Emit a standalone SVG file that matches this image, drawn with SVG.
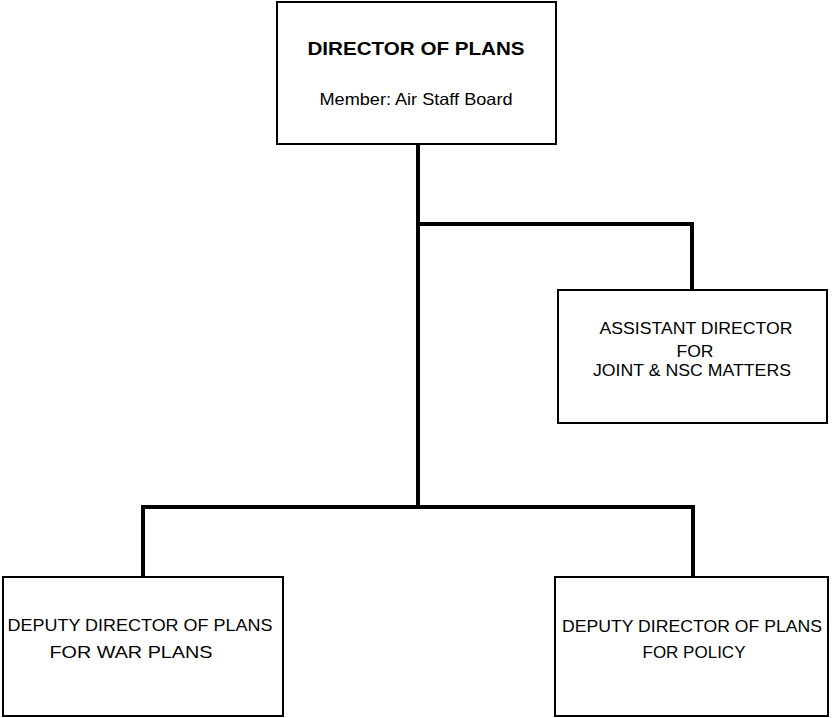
<svg xmlns="http://www.w3.org/2000/svg" width="832" height="718" viewBox="0 0 832 718">
<style>
.box{fill:#fff;stroke:#000;stroke-width:2}
.t{font-family:"Liberation Sans",Arial,sans-serif;font-size:16.5px;fill:#000;text-anchor:middle}
.b{font-weight:bold;font-size:18px}
.c{fill:none;stroke:#000;stroke-width:4;stroke-linejoin:miter;stroke-linecap:butt}
</style>
<rect width="832" height="718" fill="#fff"/>
<g id="connectors">
<path class="c" d="M418,144 V507"/>
<path class="c" d="M418,224 H692 V290"/>
<path class="c" d="M143,577 V507 H693 V577"/>
</g>
<g id="director">
<rect class="box" x="277" y="2" width="279" height="142"/>
<text class="t b" x="416" y="55" textLength="217" lengthAdjust="spacingAndGlyphs">DIRECTOR OF PLANS</text>
<text class="t" x="416" y="105" textLength="193" lengthAdjust="spacingAndGlyphs">Member: Air Staff Board</text>
</g>
<g id="assistant">
<rect class="box" x="558" y="290" width="269" height="133"/>
<text class="t" x="696" y="334" textLength="193" lengthAdjust="spacingAndGlyphs">ASSISTANT DIRECTOR</text>
<text class="t" x="695" y="357" textLength="37" lengthAdjust="spacingAndGlyphs">FOR</text>
<text class="t" x="692" y="376" textLength="198" lengthAdjust="spacingAndGlyphs">JOINT &amp; NSC MATTERS</text>
</g>
<g id="deputy-war">
<rect class="box" x="3" y="577" width="280" height="139"/>
<text class="t" x="140" y="631" textLength="265" lengthAdjust="spacingAndGlyphs">DEPUTY DIRECTOR OF PLANS</text>
<text class="t" x="131" y="658" textLength="163" lengthAdjust="spacingAndGlyphs">FOR WAR PLANS</text>
</g>
<g id="deputy-policy">
<rect class="box" x="555" y="577" width="273" height="139"/>
<text class="t" x="692" y="632" textLength="260" lengthAdjust="spacingAndGlyphs">DEPUTY DIRECTOR OF PLANS</text>
<text class="t" x="694" y="658" textLength="103" lengthAdjust="spacingAndGlyphs">FOR POLICY</text>
</g>
</svg>
